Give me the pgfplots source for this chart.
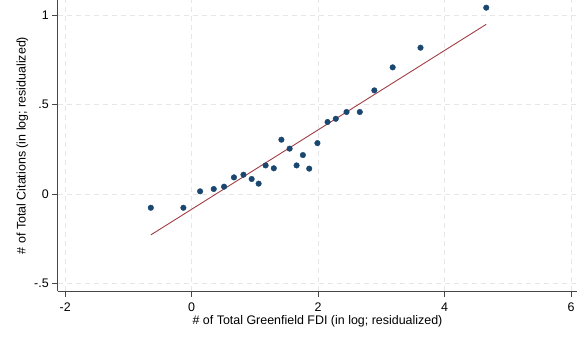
\documentclass[border=0pt]{standalone}
\usepackage{pgfplots}
\pgfplotsset{compat=1.18}
\usepackage{fontspec}
\setmainfont{Liberation Sans}
\definecolor{stnavy}{RGB}{26,71,111}
\definecolor{stmaroon}{RGB}{160,62,68}
\definecolor{gridc}{RGB}{230,230,230}
\definecolor{axc}{RGB}{70,70,70}
\begin{document}
\begin{tikzpicture}
\begin{axis}[
  scale only axis,
  width=519.6bp, height=291bp,
  xmin=-2.118, xmax=6.10,
  ymin=-0.543, ymax=1.086,
  axis lines*=left,
  axis line style={axc, line width=0.8bp},
  xtick={-2,0,2,4,6},
  ytick={-0.5,0,0.5,1},
  yticklabels={-.5,0,.5,1},
  xticklabels={-2,0,2,4,6},
  tick align=outside,
  tick style={axc, line width=0.8bp},
  major tick length=5.5bp,
  grid=major,
  major grid style={gridc, dash pattern=on 5bp off 4bp, line width=0.8bp},
  tick label style={font=\fontsize{12.5}{14}\selectfont},
  xticklabel style={yshift=-3bp},
  label style={font=\fontsize{12.5}{14}\selectfont},
  xlabel={\# of Total Greenfield FDI (in log; residualized)},
  ylabel={\# of Total Citations (in log; residualized)},
  xlabel style={yshift=3bp},
  ylabel style={yshift=-1bp},
  clip=false,
]
\addplot[stmaroon, line width=0.9bp, no marks] coordinates {(-0.645,-0.229) (4.66,0.950)};
\addplot[only marks, mark=*, mark size=2.8bp, stnavy, mark options={draw=stnavy, fill=stnavy}] coordinates {
(-0.645,-0.077) (-0.13,-0.077) (0.134,0.015) (0.35,0.028) (0.513,0.041)
(0.67,0.093) (0.82,0.108) (0.95,0.084) (1.06,0.058) (1.17,0.160)
(1.30,0.144) (1.42,0.304) (1.55,0.254) (1.66,0.160) (1.76,0.218)
(1.86,0.142) (1.99,0.285) (2.15,0.403) (2.28,0.421) (2.45,0.459)
(2.66,0.459) (2.89,0.580) (3.18,0.709) (3.62,0.819) (4.66,1.043)
};
\end{axis}
\pgfresetboundingbox
\path[use as bounding box] (-57.7bp,-48bp) rectangle (529.3bp,291bp);
\end{tikzpicture}
\end{document}
